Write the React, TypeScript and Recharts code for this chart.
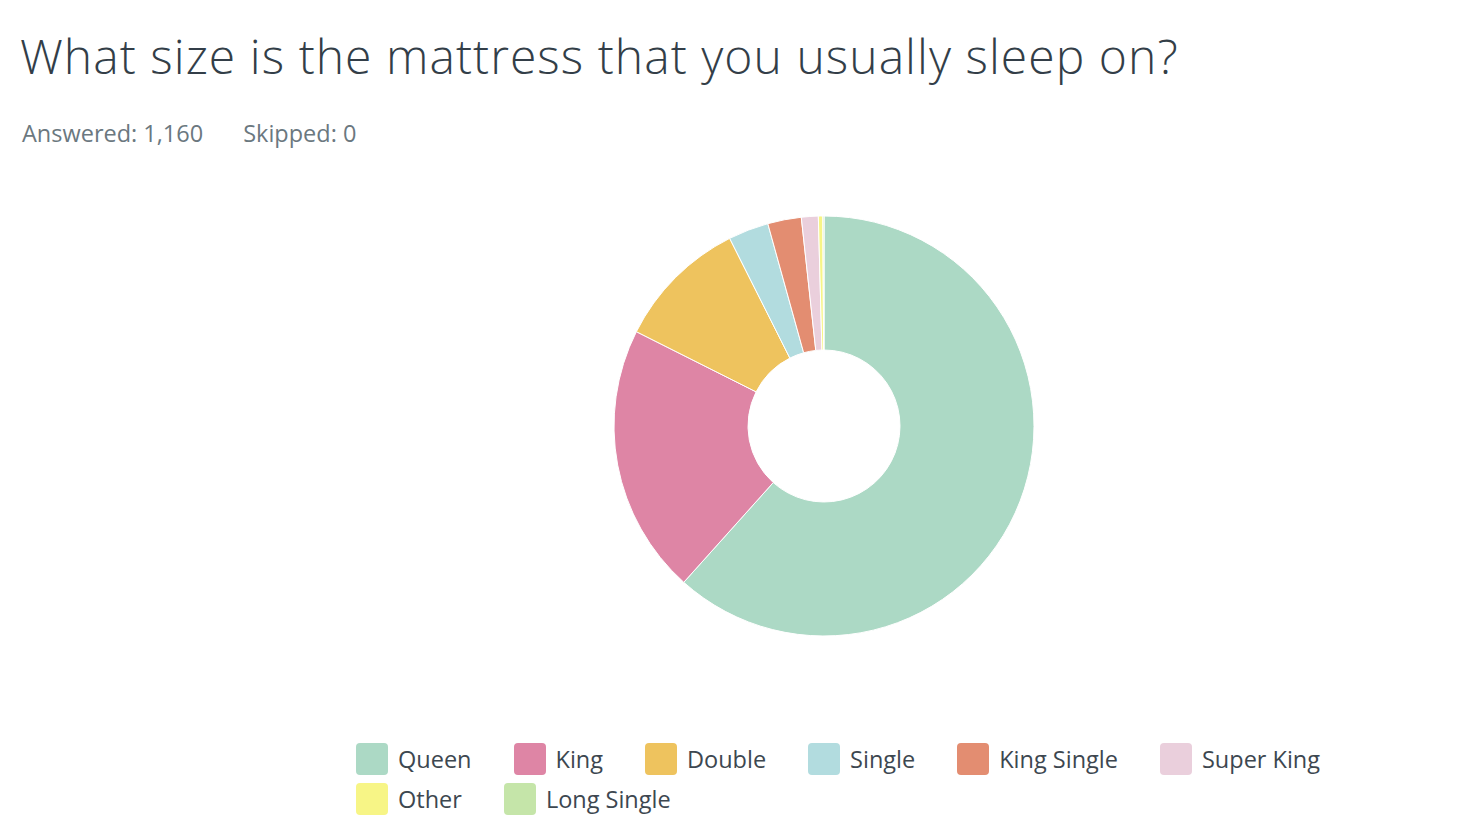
import { Cell, Legend, Pie, PieChart } from "recharts";

const categories = ["Queen", "King", "Double", "Single", "King Single", "Super King", "Other", "Long Single"];
const counts = [715, 241, 118, 36, 30, 15, 4, 1];
const colors = ["#acd9c5", "#de85a5", "#eec35e", "#b2dcdf", "#e38d71", "#eacfdc", "#f7f586", "#c5e5a9"];

const data = categories.map((name, i) => ({ name, value: counts[i] }));

const FONT = "'Open Sans', Lato, sans-serif";

function LegendBox() {
  return (
    <div style={{ display: "flex", flexWrap: "wrap", width: 1060, rowGap: 8, fontFamily: FONT }}>
      {categories.map((c, i) => (
        <div key={c} style={{ display: "flex", alignItems: "center", marginRight: 42, height: 32 }}>
          <span
            style={{ width: 32, height: 32, borderRadius: 4, background: colors[i], marginRight: 10, display: "inline-block" }}
          />
          <span style={{ fontSize: 23.5, color: "#3d4750" }}>{c}</span>
        </div>
      ))}
    </div>
  );
}

export default function App() {
  return (
    <div style={{ position: "absolute", left: 0, top: 0, width: 1466, height: 832, background: "#fff", fontFamily: FONT }}>
      <div
        style={{
          position: "absolute",
          left: 20,
          top: 21,
          fontSize: 48,
          fontWeight: 300,
          letterSpacing: 1.05,
          color: "#333e48",
          whiteSpace: "nowrap",
          lineHeight: "70px",
        }}
      >
        What size is the mattress that you usually sleep on?
      </div>
      <div style={{ position: "absolute", left: 22, top: 117, fontSize: 23.5, color: "#6b787f", whiteSpace: "nowrap" }}>
        Answered: 1,160
        <span style={{ marginLeft: 40 }}>Skipped: 0</span>
      </div>
      <PieChart
        width={1466}
        height={832}
        margin={{ top: 0, right: 0, bottom: 0, left: 0 }}
        style={{ position: "absolute", left: 0, top: 0 }}
      >
        <Pie
          data={data}
          dataKey="value"
          nameKey="name"
          cx={824}
          cy={426}
          innerRadius={76}
          outerRadius={210}
          startAngle={90}
          endAngle={-270}
          stroke="#fff"
          strokeWidth={1}
          isAnimationActive={false}
        >
          {data.map((d, i) => (
            <Cell key={d.name} fill={colors[i]} />
          ))}
        </Pie>
        <Legend
          content={() => <LegendBox />}
          wrapperStyle={{ position: "absolute", left: 356, top: 743, width: 1060 }}
        />
      </PieChart>
    </div>
  );
}
